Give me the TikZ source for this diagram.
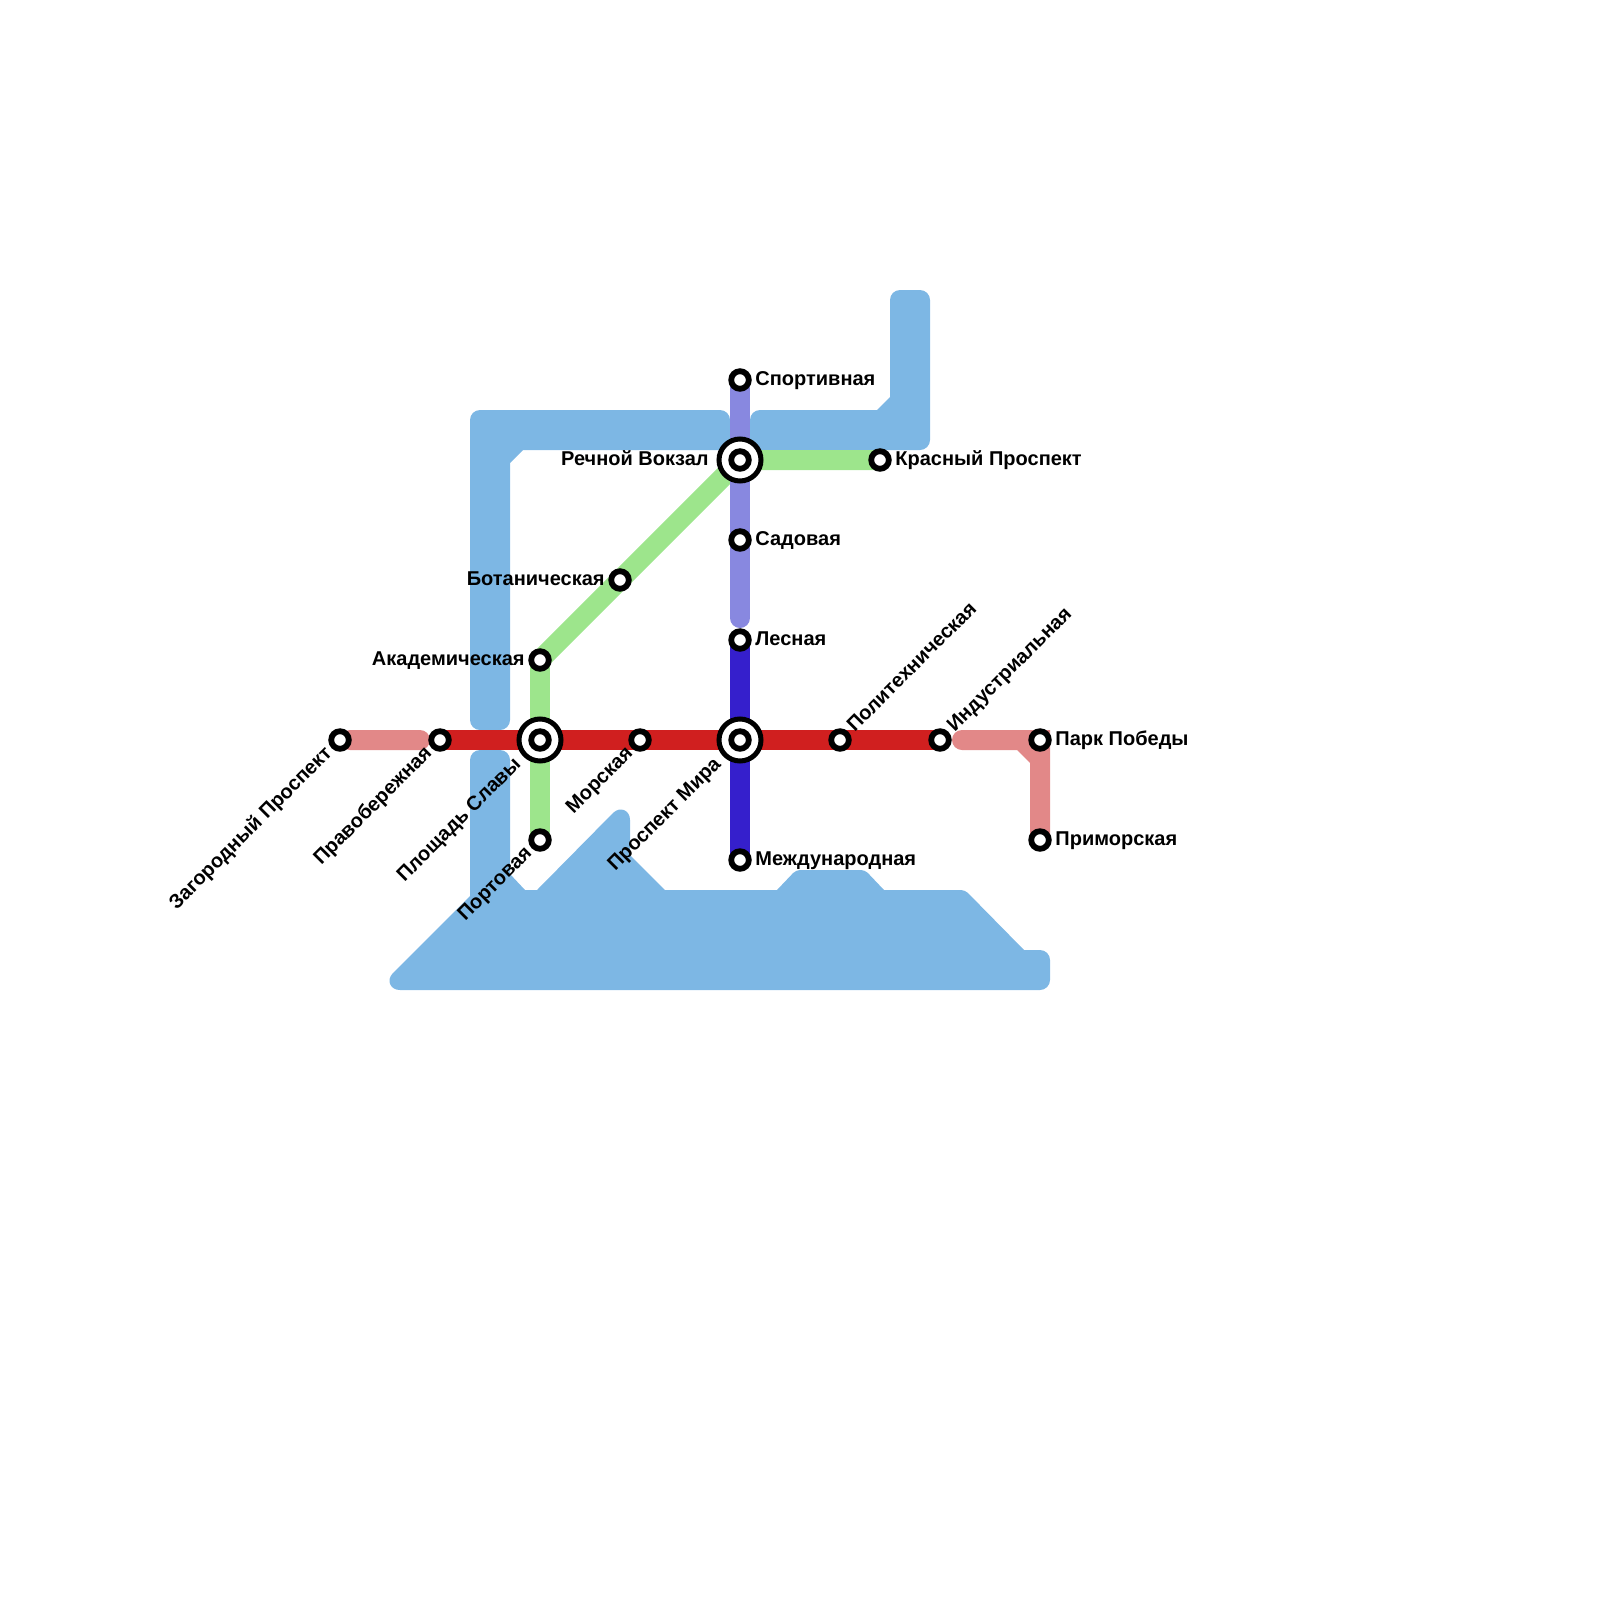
\documentclass[tikz,border=0pt]{standalone}
\usepackage{fontspec}
\setmainfont{Liberation Sans}
\definecolor{water}{HTML}{7DB7E4}
\definecolor{redline}{HTML}{D01F1F}
\definecolor{pinkline}{HTML}{E28888}
\definecolor{greenline}{HTML}{9DE58C}
\definecolor{blueline}{HTML}{351FCC}
\definecolor{lilacline}{HTML}{8888E0}
\tikzset{
  waterbody/.style={fill=water,draw=none,rounded corners=5pt},
  metro/.style={line width=10pt,line cap=butt},
  stationdot/.style={circle,draw=black,fill=white,line width=2.9pt,minimum size=8.8pt,inner sep=0pt,outer sep=0pt},
  hubdot/.style={circle,draw=black,fill=white,line width=2.5pt,minimum size=21pt,inner sep=0pt,outer sep=0pt},
  lbl/.style={font=\bfseries\fontsize{10pt}{11pt}\selectfont,inner sep=0pt,text=black},
}
\begin{document}
\begin{tikzpicture}[x=0.5pt,y=-0.5pt]
\useasboundingbox (0,0) rectangle (1600,1600);
% water
\fill[waterbody] (470,410) -- (730,410) -- (730,450) [sharp corners] -- (523,450) -- (510,463) [rounded corners=5pt] -- (510,730) -- (470,730) -- cycle;
\fill[waterbody] (750,450) -- (750,410) [sharp corners] -- (877,410) -- (890,397) [rounded corners=5pt] -- (890,290) -- (930,290) -- (930,450) -- cycle;
\fill[waterbody] (470,750) -- (510,750) [sharp corners] -- (510,874) -- (525,890) -- (537,890) -- (613,813) .. controls (620,806) and (630,810) .. (630,820) -- (630,855) -- (665,890) -- (777,890) [rounded corners=2pt] -- (796,870) -- (865,870) [sharp corners] -- (884,890) [rounded corners=2pt] -- (965,890) [sharp corners] -- (1024,950) [rounded corners=5pt] -- (1050,950) -- (1050,990) [sharp corners] -- (400,990) .. controls (390,990) and (386,980) .. (393,973) -- (470,896) [rounded corners=5pt] -- cycle;
% station positions
\coordinate (zag) at (340,740);
\coordinate (prav) at (440,740);
\coordinate (pl) at (540,740);
\coordinate (mor) at (640,740);
\coordinate (mir) at (740,740);
\coordinate (pol) at (840,740);
\coordinate (ind) at (940,740);
\coordinate (park) at (1040,740);
\coordinate (prim) at (1040,840);
\coordinate (port) at (540,840);
\coordinate (akad) at (540,660);
\coordinate (bot) at (620,580);
\coordinate (rech) at (740,460);
\coordinate (kras) at (880,460);
\coordinate (sport) at (740,380);
\coordinate (sad) at (740,540);
\coordinate (les) at (740,640);
\coordinate (mezh) at (740,860);
\coordinate (lilacEnd) at (740,618);
% lines
\draw[metro,greenline] (akad) -- (bot) -- (rech) -- (kras);
\draw[metro,greenline] (akad) -- (pl) -- (port);
\draw[metro,lilacline] (sport) -- (rech) -- (sad);
\draw[metro,lilacline,line cap=round] (sad) -- (lilacEnd);
\draw[metro,blueline] (les) -- (mir) -- (mezh);
\fill[pinkline,rounded corners=5pt] (340,730) -- (430,730) -- (430,750) -- (340,750) -- cycle;
\fill[pinkline,rounded corners=5pt] (952,730) [sharp corners] -- (1050,730) -- (1050,840) -- (1030,840) -- (1030,763) -- (1017,750) [rounded corners=5pt] -- (952,750) -- cycle;
\draw[metro,redline] (prav) -- (pl) -- (mor) -- (mir) -- (pol) -- (ind);
% station marks
\foreach \s in {pl,mir,rech}
  \node[hubdot] at (\s) {};
\foreach \s in {zag,prav,pl,mor,mir,pol,ind,park,prim,port,akad,bot,rech,kras,sport,sad,les,mezh}
  \node[stationdot] at (\s) {};
% labels
\node[lbl,anchor=base west] (t1) at (755,385) {Спортивная};
\node[lbl,anchor=base east] (t2) at (709,465) {Речной Вокзал};
\node[lbl,anchor=base west] (t3) at (895,465) {Красный Проспект};
\node[lbl,anchor=base west] (t4) at (755,545) {Садовая};
\node[lbl,anchor=base east] (t5) at (605,585) {Ботаническая};
\node[lbl,anchor=base east] (t6) at (525,665) {Академическая};
\node[lbl,anchor=base west] (t7) at (755,645) {Лесная};
\node[lbl,anchor=base west] (t8) at (755,865) {Международная};
\node[lbl,anchor=base west] (t9) at (1055,745) {Парк Победы};
\node[lbl,anchor=base west] (t10) at (1055,845) {Приморская};
\node[lbl,anchor=base west,rotate=45] (t11) at (854.5,733) {Политехническая};
\node[lbl,anchor=base west,rotate=45] (t12) at (954.5,733) {Индустриальная};
\node[lbl,anchor=base east,rotate=45] (t13) at (333,754) {Загородный Проспект};
\node[lbl,anchor=base east,rotate=45] (t14) at (433,754) {Правобережная};
\node[lbl,anchor=base east,rotate=45] (t15) at (522,765) {Площадь Славы};
\node[lbl,anchor=base east,rotate=45] (t16) at (533,854) {Портовая};
\node[lbl,anchor=base east,rotate=45] (t17) at (634,754) {Морская};
\node[lbl,anchor=base east,rotate=45] (t18) at (722,765) {Проспект Мира};
\end{tikzpicture}
\end{document}
